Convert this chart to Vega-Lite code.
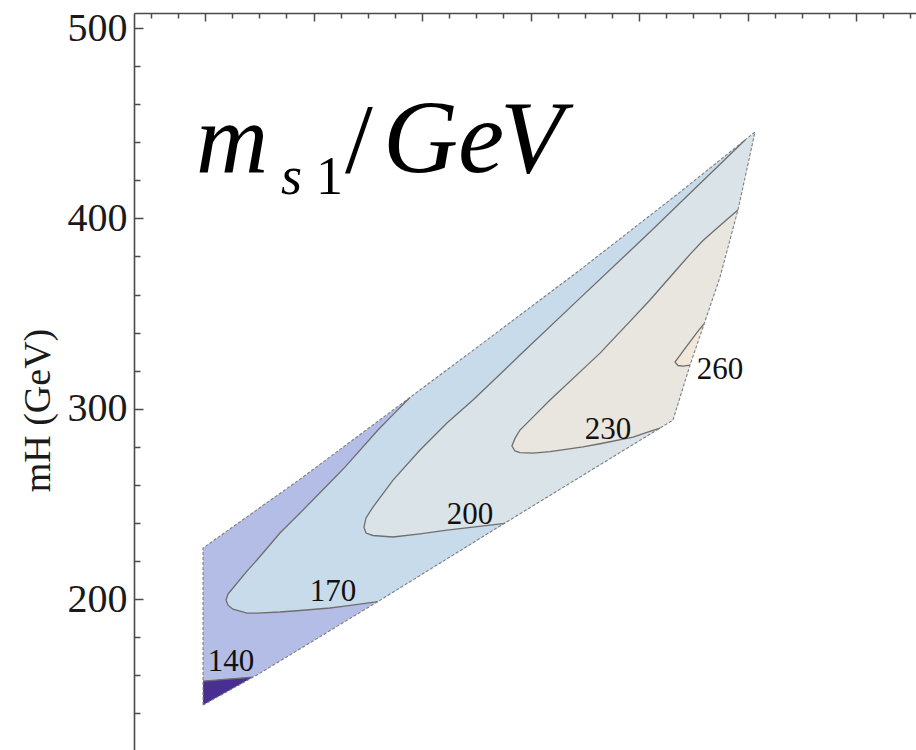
{
  "$schema": "https://vega.github.io/schema/vega-lite/v6.json",
  "width": 782,
  "height": 737,
  "autosize": {"type": "none"},
  "padding": {"left": 134, "top": 13, "right": 0, "bottom": 0},
  "background": "white",
  "config": {
    "view": {"stroke": null},
    "font": "Liberation Serif"
  },
  "datasets": {
    "bands": [
      {"band": "all", "x": 98.2, "y": 226.8, "y2": 144.3},
      {"band": "all", "x": 147.9, "y": 247.0, "y2": 160.1},
      {"band": "all", "x": 187.6, "y": 263.0, "y2": 173.8},
      {"band": "all", "x": 258.5, "y": 293.0, "y2": 198.4},
      {"band": "all", "x": 273.3, "y": 299.3, "y2": 203.6},
      {"band": "all", "x": 353.5, "y": 333.4, "y2": 231.7},
      {"band": "all", "x": 445.6, "y": 372.9, "y2": 264.0},
      {"band": "all", "x": 531.3, "y": 410.9, "y2": 294.0},
      {"band": "all", "x": 537.8, "y": 413.8, "y2": 305.9},
      {"band": "all", "x": 547.0, "y": 418.0, "y2": 322.9},
      {"band": "all", "x": 559.0, "y": 423.5, "y2": 342.9},
      {"band": "all", "x": 574.7, "y": 430.6, "y2": 369.2},
      {"band": "all", "x": 591.2, "y": 438.2, "y2": 404.4},
      {"band": "all", "x": 606.9, "y": 445.4, "y2": 445.4},

      {"band": "lt140", "x": 98.2, "y": 156.9, "y2": 144.3},
      {"band": "lt140", "x": 144.2, "y": 159.0, "y2": 159.0},

      {"band": "ge170", "x": 119.4, "y": 199.5, "y2": 199.5},
      {"band": "ge170", "x": 121.2, "y": 202.6, "y2": 196.8},
      {"band": "ge170", "x": 125.8, "y": 205.8, "y2": 194.7},
      {"band": "ge170", "x": 138.7, "y": 214.7, "y2": 192.6},
      {"band": "ge170", "x": 147.9, "y": 220.5, "y2": 192.6},
      {"band": "ge170", "x": 169.1, "y": 234.7, "y2": 193.2},
      {"band": "ge170", "x": 187.6, "y": 245.2, "y2": 194.0},
      {"band": "ge170", "x": 215.2, "y": 261.2, "y2": 195.3},
      {"band": "ge170", "x": 229.0, "y": 269.3, "y2": 196.3},
      {"band": "ge170", "x": 259.4, "y": 288.8, "y2": 198.7},
      {"band": "ge170", "x": 273.3, "y": 296.9, "y2": 203.6},
      {"band": "ge170", "x": 288.9, "y": 305.9, "y2": 209.1},
      {"band": "ge170", "x": 353.5, "y": 333.4, "y2": 231.7},
      {"band": "ge170", "x": 445.6, "y": 372.9, "y2": 264.0},
      {"band": "ge170", "x": 531.3, "y": 410.9, "y2": 294.0},
      {"band": "ge170", "x": 537.8, "y": 413.8, "y2": 305.9},
      {"band": "ge170", "x": 547.0, "y": 418.0, "y2": 322.9},
      {"band": "ge170", "x": 559.0, "y": 423.5, "y2": 342.9},
      {"band": "ge170", "x": 574.7, "y": 430.6, "y2": 369.2},
      {"band": "ge170", "x": 591.2, "y": 438.2, "y2": 404.4},
      {"band": "ge170", "x": 606.9, "y": 445.4, "y2": 445.4},

      {"band": "ge200", "x": 246.5, "y": 237.8, "y2": 237.8},
      {"band": "ge200", "x": 248.4, "y": 242.6, "y2": 234.7},
      {"band": "ge200", "x": 254.8, "y": 248.3, "y2": 233.4},
      {"band": "ge200", "x": 273.3, "y": 262.5, "y2": 232.6},
      {"band": "ge200", "x": 298.2, "y": 278.3, "y2": 234.3},
      {"band": "ge200", "x": 323.0, "y": 292.5, "y2": 236.2},
      {"band": "ge200", "x": 347.0, "y": 304.6, "y2": 237.8},
      {"band": "ge200", "x": 376.5, "y": 320.6, "y2": 239.8},
      {"band": "ge200", "x": 390.3, "y": 328.2, "y2": 244.6},
      {"band": "ge200", "x": 445.6, "y": 358.1, "y2": 264.0},
      {"band": "ge200", "x": 510.1, "y": 392.8, "y2": 286.6},
      {"band": "ge200", "x": 531.3, "y": 404.5, "y2": 294.0},
      {"band": "ge200", "x": 537.8, "y": 408.1, "y2": 305.9},
      {"band": "ge200", "x": 547.0, "y": 413.2, "y2": 322.9},
      {"band": "ge200", "x": 559.0, "y": 419.8, "y2": 342.9},
      {"band": "ge200", "x": 574.7, "y": 428.4, "y2": 369.2},
      {"band": "ge200", "x": 591.2, "y": 437.6, "y2": 404.4},
      {"band": "ge200", "x": 597.7, "y": 441.2, "y2": 421.2},
      {"band": "ge200", "x": 606.9, "y": 445.4, "y2": 445.4},

      {"band": "ge230", "x": 382.9, "y": 280.4, "y2": 280.4},
      {"band": "ge230", "x": 385.7, "y": 284.4, "y2": 277.8},
      {"band": "ge230", "x": 390.3, "y": 288.8, "y2": 276.9},
      {"band": "ge230", "x": 402.3, "y": 295.6, "y2": 276.7},
      {"band": "ge230", "x": 418.0, "y": 304.6, "y2": 277.5},
      {"band": "ge230", "x": 448.4, "y": 320.8, "y2": 279.9},
      {"band": "ge230", "x": 464.1, "y": 329.2, "y2": 281.6},
      {"band": "ge230", "x": 494.5, "y": 347.6, "y2": 285.1},
      {"band": "ge230", "x": 510.1, "y": 357.1, "y2": 288.1},
      {"band": "ge230", "x": 519.4, "y": 363.1, "y2": 289.8},
      {"band": "ge230", "x": 531.3, "y": 370.9, "y2": 294.0},
      {"band": "ge230", "x": 537.8, "y": 375.1, "y2": 305.9},
      {"band": "ge230", "x": 547.0, "y": 381.1, "y2": 322.9},
      {"band": "ge230", "x": 556.2, "y": 387.0, "y2": 338.3},
      {"band": "ge230", "x": 559.0, "y": 388.4, "y2": 342.9},
      {"band": "ge230", "x": 574.7, "y": 396.2, "y2": 369.2},
      {"band": "ge230", "x": 591.2, "y": 404.4, "y2": 404.4},

      {"band": "ge260", "x": 533.2, "y": 324.5, "y2": 324.5},
      {"band": "ge260", "x": 535.9, "y": 326.6, "y2": 322.7},
      {"band": "ge260", "x": 540.6, "y": 330.2, "y2": 322.4},
      {"band": "ge260", "x": 547.0, "y": 335.1, "y2": 322.9},
      {"band": "ge260", "x": 553.5, "y": 340.1, "y2": 333.7},
      {"band": "ge260", "x": 559.9, "y": 344.6, "y2": 344.6}
    ],
    "lines": [
      {"c": "c140", "i": 0, "x": 98.2, "y": 156.9},
      {"c": "c140", "i": 1, "x": 144.2, "y": 159.0},

      {"c": "c170", "i": 0, "x": 259.4, "y": 198.7},
      {"c": "c170", "i": 1, "x": 229.0, "y": 196.3},
      {"c": "c170", "i": 2, "x": 215.2, "y": 195.3},
      {"c": "c170", "i": 3, "x": 187.6, "y": 194.0},
      {"c": "c170", "i": 4, "x": 169.1, "y": 193.2},
      {"c": "c170", "i": 5, "x": 147.9, "y": 192.6},
      {"c": "c170", "i": 6, "x": 138.7, "y": 192.6},
      {"c": "c170", "i": 7, "x": 125.8, "y": 194.7},
      {"c": "c170", "i": 8, "x": 121.2, "y": 196.8},
      {"c": "c170", "i": 9, "x": 119.4, "y": 199.5},
      {"c": "c170", "i": 10, "x": 121.2, "y": 202.6},
      {"c": "c170", "i": 11, "x": 125.8, "y": 205.8},
      {"c": "c170", "i": 12, "x": 138.7, "y": 214.7},
      {"c": "c170", "i": 13, "x": 147.9, "y": 220.5},
      {"c": "c170", "i": 14, "x": 169.1, "y": 234.7},
      {"c": "c170", "i": 15, "x": 187.6, "y": 245.2},
      {"c": "c170", "i": 16, "x": 215.2, "y": 261.2},
      {"c": "c170", "i": 17, "x": 229.0, "y": 269.3},
      {"c": "c170", "i": 18, "x": 259.4, "y": 288.8},
      {"c": "c170", "i": 19, "x": 273.3, "y": 296.9},
      {"c": "c170", "i": 20, "x": 288.9, "y": 305.9},

      {"c": "c200", "i": 0, "x": 376.5, "y": 239.8},
      {"c": "c200", "i": 1, "x": 347.0, "y": 237.8},
      {"c": "c200", "i": 2, "x": 323.0, "y": 236.2},
      {"c": "c200", "i": 3, "x": 298.2, "y": 234.3},
      {"c": "c200", "i": 4, "x": 273.3, "y": 232.6},
      {"c": "c200", "i": 5, "x": 254.8, "y": 233.4},
      {"c": "c200", "i": 6, "x": 248.4, "y": 234.7},
      {"c": "c200", "i": 7, "x": 246.5, "y": 237.8},
      {"c": "c200", "i": 8, "x": 248.4, "y": 242.6},
      {"c": "c200", "i": 9, "x": 254.8, "y": 248.3},
      {"c": "c200", "i": 10, "x": 273.3, "y": 262.5},
      {"c": "c200", "i": 11, "x": 298.2, "y": 278.3},
      {"c": "c200", "i": 12, "x": 323.0, "y": 292.5},
      {"c": "c200", "i": 13, "x": 347.0, "y": 304.6},
      {"c": "c200", "i": 14, "x": 376.5, "y": 320.6},
      {"c": "c200", "i": 15, "x": 390.3, "y": 328.2},
      {"c": "c200", "i": 16, "x": 445.6, "y": 358.1},
      {"c": "c200", "i": 17, "x": 510.1, "y": 392.8},
      {"c": "c200", "i": 18, "x": 531.3, "y": 404.5},
      {"c": "c200", "i": 19, "x": 547.0, "y": 413.2},
      {"c": "c200", "i": 20, "x": 574.7, "y": 428.4},
      {"c": "c200", "i": 21, "x": 597.7, "y": 441.2},

      {"c": "c230", "i": 0, "x": 519.4, "y": 289.8},
      {"c": "c230", "i": 1, "x": 510.1, "y": 288.1},
      {"c": "c230", "i": 2, "x": 494.5, "y": 285.1},
      {"c": "c230", "i": 3, "x": 464.1, "y": 281.6},
      {"c": "c230", "i": 4, "x": 448.4, "y": 279.9},
      {"c": "c230", "i": 5, "x": 418.0, "y": 277.5},
      {"c": "c230", "i": 6, "x": 402.3, "y": 276.7},
      {"c": "c230", "i": 7, "x": 390.3, "y": 276.9},
      {"c": "c230", "i": 8, "x": 385.7, "y": 277.8},
      {"c": "c230", "i": 9, "x": 382.9, "y": 280.4},
      {"c": "c230", "i": 10, "x": 385.7, "y": 284.4},
      {"c": "c230", "i": 11, "x": 390.3, "y": 288.8},
      {"c": "c230", "i": 12, "x": 402.3, "y": 295.6},
      {"c": "c230", "i": 13, "x": 418.0, "y": 304.6},
      {"c": "c230", "i": 14, "x": 448.4, "y": 320.8},
      {"c": "c230", "i": 15, "x": 464.1, "y": 329.2},
      {"c": "c230", "i": 16, "x": 494.5, "y": 347.6},
      {"c": "c230", "i": 17, "x": 510.1, "y": 357.1},
      {"c": "c230", "i": 18, "x": 531.3, "y": 370.9},
      {"c": "c230", "i": 19, "x": 547.0, "y": 381.1},
      {"c": "c230", "i": 20, "x": 559.0, "y": 388.4},
      {"c": "c230", "i": 21, "x": 574.7, "y": 396.2},
      {"c": "c230", "i": 22, "x": 591.2, "y": 404.4},

      {"c": "c260", "i": 0, "x": 547.0, "y": 322.9},
      {"c": "c260", "i": 1, "x": 540.6, "y": 322.4},
      {"c": "c260", "i": 2, "x": 535.9, "y": 322.7},
      {"c": "c260", "i": 3, "x": 533.2, "y": 324.5},
      {"c": "c260", "i": 4, "x": 535.9, "y": 326.6},
      {"c": "c260", "i": 5, "x": 540.6, "y": 330.2},
      {"c": "c260", "i": 6, "x": 547.0, "y": 335.1},
      {"c": "c260", "i": 7, "x": 553.5, "y": 340.1},
      {"c": "c260", "i": 8, "x": 559.9, "y": 344.6}
    ],
    "outline": [
      {"i": 0, "x": 98.2, "y": 144.3},
      {"i": 1, "x": 98.2, "y": 226.8},
      {"i": 2, "x": 187.6, "y": 263.0},
      {"i": 3, "x": 273.3, "y": 299.3},
      {"i": 4, "x": 353.5, "y": 333.4},
      {"i": 5, "x": 445.6, "y": 372.9},
      {"i": 6, "x": 537.8, "y": 413.8},
      {"i": 7, "x": 606.9, "y": 445.4},
      {"i": 8, "x": 591.2, "y": 404.4},
      {"i": 9, "x": 574.7, "y": 369.2},
      {"i": 10, "x": 559.0, "y": 342.9},
      {"i": 11, "x": 547.0, "y": 322.9},
      {"i": 12, "x": 531.3, "y": 294.0},
      {"i": 13, "x": 371.9, "y": 238.4},
      {"i": 14, "x": 258.5, "y": 198.4},
      {"i": 15, "x": 147.9, "y": 160.1},
      {"i": 16, "x": 98.2, "y": 144.3}
    ],
    "levels": [
      {"t": "140", "x": 124.0, "y": 166.9},
      {"t": "170", "x": 218.0, "y": 203.7},
      {"t": "200", "x": 344.2, "y": 244.1},
      {"t": "230", "x": 471.4, "y": 288.8},
      {"t": "260", "x": 574.7, "y": 320.3}
    ],
    "heading": [
      {"part": "main-it", "t": "m", "x": 91.7, "y": 424.3},
      {"part": "sub-it", "t": "s", "x": 170.0, "y": 412.8},
      {"part": "sub-up", "t": "1", "x": 202.3, "y": 412.8},
      {"part": "main-up", "t": "/", "x": 229.0, "y": 424.3},
      {"part": "unit-it", "t": "G", "x": 264.1, "y": 424.3},
      {"part": "unit-it", "t": "e", "x": 333.2, "y": 424.3},
      {"part": "unit-it", "t": "V", "x": 371.9, "y": 424.3}
    ]
  },
  "resolve": {"axis": {"x": "independent", "y": "independent"}},
  "layer": [
    {
      "encoding": {
        "x": {
          "field": "x",
          "type": "quantitative",
          "scale": {"domain": [34.56, 755.3], "nice": false, "zero": false},
          "axis": {
            "orient": "top",
            "title": null,
            "labels": false,
            "grid": false,
            "values": [100, 200, 300, 400, 500, 600, 700],
            "tickSize": -8,
            "tickColor": "#4a4a4a",
            "tickWidth": 1.5,
            "domainColor": "#4a4a4a",
            "domainWidth": 1.6
          }
        },
        "y": {
          "field": "y",
          "type": "quantitative",
          "scale": {"domain": [120.7, 507.9], "nice": false, "zero": false},
          "axis": {
            "orient": "left",
            "grid": false,
            "values": [200, 300, 400, 500],
            "labelOverlap": false,
            "labelFlush": false,
            "labelFont": "Liberation Serif",
            "labelFontSize": 40,
            "labelColor": "#1a1a1a",
            "labelPadding": 16,
            "tickSize": -9,
            "tickColor": "#4a4a4a",
            "tickWidth": 1.5,
            "domainColor": "#4a4a4a",
            "domainWidth": 1.6,
            "title": "mH (GeV)",
            "titleFont": "Liberation Serif",
            "titleFontSize": 38,
            "titleFontWeight": "normal",
            "titleColor": "#1a1a1a",
            "titleAngle": -90,
            "titleAlign": "center",
            "titleBaseline": "alphabetic",
            "titleX": -85,
            "titleY": 397
          }
        }
      },
      "layer": [
        {
          "data": {"name": "bands"},
          "transform": [{"filter": "datum.band === 'all'"}],
          "mark": {"type": "area", "color": "#b3bde5", "opacity": 1},
          "encoding": {"y2": {"field": "y2"}}
        },
        {
          "data": {"name": "bands"},
          "transform": [{"filter": "datum.band === 'lt140'"}],
          "mark": {"type": "area", "color": "#4a2f92", "opacity": 1},
          "encoding": {"y2": {"field": "y2"}}
        },
        {
          "data": {"name": "bands"},
          "transform": [{"filter": "datum.band === 'ge170'"}],
          "mark": {"type": "area", "color": "#c8dbea", "opacity": 1},
          "encoding": {"y2": {"field": "y2"}}
        },
        {
          "data": {"name": "bands"},
          "transform": [{"filter": "datum.band === 'ge200'"}],
          "mark": {"type": "area", "color": "#dae3e8", "opacity": 1},
          "encoding": {"y2": {"field": "y2"}}
        },
        {
          "data": {"name": "bands"},
          "transform": [{"filter": "datum.band === 'ge230'"}],
          "mark": {"type": "area", "color": "#e9e6df", "opacity": 1},
          "encoding": {"y2": {"field": "y2"}}
        },
        {
          "data": {"name": "bands"},
          "transform": [{"filter": "datum.band === 'ge260'"}],
          "mark": {"type": "area", "color": "#f2e8da", "opacity": 1},
          "encoding": {"y2": {"field": "y2"}}
        },
        {
          "data": {"name": "lines"},
          "mark": {"type": "line", "color": "#6e6e6e", "strokeWidth": 1.3},
          "encoding": {
            "detail": {"field": "c"},
            "order": {"field": "i", "type": "quantitative"}
          }
        },
        {
          "data": {"name": "levels"},
          "mark": {"type": "text", "font": "Liberation Serif", "fontSize": 31, "color": "#111111", "align": "center", "baseline": "middle"},
          "encoding": {"text": {"field": "t"}}
        },
        {
          "data": {"name": "heading"},
          "transform": [{"filter": "datum.part === 'main-it'"}],
          "mark": {"type": "text", "font": "Liberation Serif", "fontStyle": "italic", "fontSize": 100, "color": "#000000", "align": "left", "baseline": "alphabetic"},
          "encoding": {"text": {"field": "t"}}
        },
        {
          "data": {"name": "heading"},
          "transform": [{"filter": "datum.part === 'unit-it'"}],
          "mark": {"type": "text", "font": "Liberation Serif", "fontStyle": "italic", "fontSize": 104, "color": "#000000", "align": "left", "baseline": "alphabetic"},
          "encoding": {"text": {"field": "t"}}
        },
        {
          "data": {"name": "heading"},
          "transform": [{"filter": "datum.part === 'main-up'"}],
          "mark": {"type": "text", "font": "Liberation Serif", "fontSize": 100, "color": "#000000", "align": "left", "baseline": "alphabetic"},
          "encoding": {"text": {"field": "t"}}
        },
        {
          "data": {"name": "heading"},
          "transform": [{"filter": "datum.part === 'sub-it'"}],
          "mark": {"type": "text", "font": "Liberation Serif", "fontStyle": "italic", "fontSize": 54, "color": "#000000", "align": "left", "baseline": "alphabetic"},
          "encoding": {"text": {"field": "t"}}
        },
        {
          "data": {"name": "heading"},
          "transform": [{"filter": "datum.part === 'sub-up'"}],
          "mark": {"type": "text", "font": "Liberation Serif", "fontSize": 54, "color": "#000000", "align": "left", "baseline": "alphabetic"},
          "encoding": {"text": {"field": "t"}}
        }
      ]
    },
    {
      "data": {"name": "outline"},
      "mark": {"type": "line", "color": "#7f7f7f", "strokeWidth": 1.1, "strokeDash": [3, 2]},
      "encoding": {
        "x": {
          "field": "x",
          "type": "quantitative",
          "axis": {
            "orient": "top",
            "title": null,
            "labels": false,
            "domain": false,
            "grid": false,
            "values": [50, 75, 125, 150, 175, 225, 250, 275, 325, 350, 375, 425, 450, 475, 525, 550, 575, 625, 650, 675, 725, 750],
            "tickSize": -5,
            "tickColor": "#4a4a4a",
            "tickWidth": 1.5
          }
        },
        "y": {
          "field": "y",
          "type": "quantitative",
          "axis": {
            "orient": "left",
            "title": null,
            "labels": false,
            "domain": false,
            "grid": false,
            "values": [140, 160, 180, 220, 240, 260, 280, 320, 340, 360, 380, 420, 440, 460, 480],
            "tickSize": -6,
            "tickColor": "#4a4a4a",
            "tickWidth": 1.5
          }
        },
        "order": {"field": "i", "type": "quantitative"}
      }
    }
  ]
}
